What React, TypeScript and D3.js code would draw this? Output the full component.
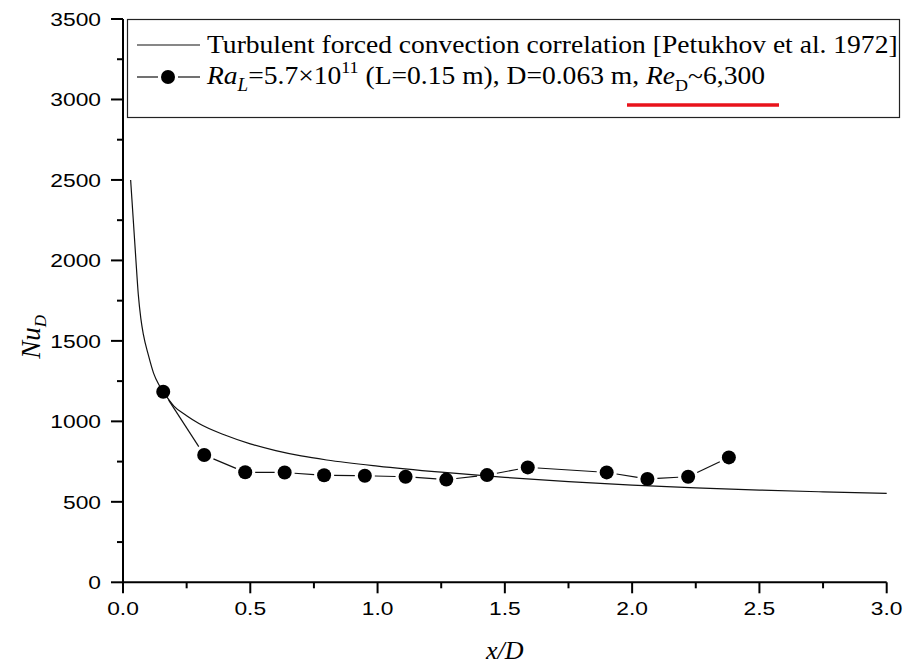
import React, { useEffect, useRef } from "react";
import * as d3 from "d3";

// Petukhov correlation curve
const corrX = [0.03, 0.04, 0.05, 0.06, 0.07, 0.08, 0.1, 0.12, 0.14, 0.16, 0.2, 0.25, 0.3, 0.4, 0.5, 0.6, 0.7, 0.8, 1.0, 1.25, 1.5, 1.75, 2.0, 2.25, 2.5, 2.75, 3.0];
const corrNu = [2500, 2260, 2020, 1790, 1640, 1540, 1410, 1300, 1230, 1180, 1095, 1035, 985, 915, 860, 818, 785, 760, 722, 684, 652, 626, 604, 587, 573, 562, 553];

// measured points
const measX = [0.158, 0.319, 0.48, 0.635, 0.79, 0.95, 1.11, 1.27, 1.43, 1.59, 1.9, 2.06, 2.22, 2.38];
const measNu = [1184, 791, 684, 682, 665, 662, 656, 638, 666, 714, 683, 642, 656, 776];

const xTicks = [0, 0.5, 1.0, 1.5, 2.0, 2.5, 3.0];
const yTicks = [0, 500, 1000, 1500, 2000, 2500, 3000, 3500];

const W = 906;
const H = 666;
const serif = "'Liberation Serif', 'Times New Roman', serif";
const sans = "'Liberation Sans', Arial, sans-serif";

export default function App() {
  const ref = useRef<SVGSVGElement>(null);

  useEffect(() => {
    document.body.style.margin = "0";
    const svg = d3.select(ref.current);
    svg.selectAll("*").remove();

    const x = d3.scaleLinear().domain([0, 3]).range([123, 886.7]);
    const y = d3.scaleLinear().domain([0, 3500]).range([582.3, 19]);

    // axes
    const xAxis = svg.append("g").attr("transform", `translate(0,${y(0)})`);
    xAxis.append("line").attr("x1", x(0)).attr("x2", x(3)).attr("stroke", "#000").attr("stroke-width", 2);
    xAxis.selectAll(".minor").data(d3.range(0.25, 3, 0.5)).enter().append("line")
      .attr("x1", d => x(d)).attr("x2", d => x(d)).attr("y1", 0).attr("y2", 6)
      .attr("stroke", "#000").attr("stroke-width", 2);
    xAxis.selectAll(".major").data(xTicks).enter().append("line")
      .attr("x1", d => x(d)).attr("x2", d => x(d)).attr("y1", 0).attr("y2", 11)
      .attr("stroke", "#000").attr("stroke-width", 2);
    xAxis.selectAll("text").data(xTicks).enter().append("text")
      .attr("transform", d => `translate(${x(d)},33) scale(1.2,1)`)
      .attr("text-anchor", "middle")
      .style("font-family", sans).style("font-size", "19px")
      .text(d => d.toFixed(1));

    const yAxis = svg.append("g").attr("transform", `translate(${x(0)},0)`);
    yAxis.append("line").attr("y1", y(0)).attr("y2", y(3500)).attr("stroke", "#000").attr("stroke-width", 2);
    yAxis.selectAll(".minor").data(d3.range(250, 3500, 500)).enter().append("line")
      .attr("y1", d => y(d)).attr("y2", d => y(d)).attr("x1", 0).attr("x2", -6)
      .attr("stroke", "#000").attr("stroke-width", 2);
    yAxis.selectAll(".major").data(yTicks).enter().append("line")
      .attr("y1", d => y(d)).attr("y2", d => y(d)).attr("x1", 0).attr("x2", -12)
      .attr("stroke", "#000").attr("stroke-width", 2);
    yAxis.selectAll("text").data(yTicks).enter().append("text")
      .attr("transform", d => `translate(-22,${y(d) + 7}) scale(1.2,1)`)
      .attr("text-anchor", "end")
      .style("font-family", sans).style("font-size", "19px")
      .text(d => String(d));

    // axis titles
    svg.append("text")
      .attr("x", (x(0) + x(3)) / 2).attr("y", 659)
      .attr("text-anchor", "middle")
      .style("font-family", serif).style("font-style", "italic").style("font-size", "26px")
      .text("x/D");

    const yt = svg.append("text")
      .attr("transform", `translate(40,${y(1500) - 4}) rotate(-90)`)
      .attr("text-anchor", "middle")
      .style("font-family", serif).style("font-size", "27px");
    yt.append("tspan").style("font-style", "italic").text("Nu");
    yt.append("tspan").attr("dy", 6).style("font-style", "italic").style("font-size", "17px").text("D");

    // correlation curve
    const corr = corrX.map((d, i) => [d, corrNu[i]] as [number, number]);
    const line = d3.line<[number, number]>().x(d => x(d[0])).y(d => y(d[1])).curve(d3.curveMonotoneX);
    svg.append("path").attr("d", line(corr)).attr("fill", "none").attr("stroke", "#111").attr("stroke-width", 1.2);

    // measured line with gaps around markers
    const r = 7;
    const gap = r + 3;
    const pts = measX.map((d, i) => [x(d), y(measNu[i])]);
    const segs = d3.pairs(pts).map(([a, b]) => {
      const dx = b[0] - a[0];
      const dy = b[1] - a[1];
      const len = Math.hypot(dx, dy);
      const ux = dx / len;
      const uy = dy / len;
      return [a[0] + ux * gap, a[1] + uy * gap, b[0] - ux * gap, b[1] - uy * gap];
    });
    svg.selectAll(".seg").data(segs).enter().append("line")
      .attr("x1", d => d[0]).attr("y1", d => d[1]).attr("x2", d => d[2]).attr("y2", d => d[3])
      .attr("stroke", "#111").attr("stroke-width", 1.2);
    svg.selectAll(".dot").data(pts).enter().append("circle")
      .attr("cx", d => d[0]).attr("cy", d => d[1]).attr("r", r).attr("fill", "#000");

    // legend
    const lg = svg.append("g");
    lg.append("rect").attr("x", 127.5).attr("y", 19.5).attr("width", 772).attr("height", 98)
      .attr("fill", "#fff").attr("stroke", "#222").attr("stroke-width", 1.2);
    lg.append("line").attr("x1", 137).attr("x2", 200).attr("y1", 45).attr("y2", 45).attr("stroke", "#111").attr("stroke-width", 1.2);
    lg.append("text").attr("transform", "translate(207,53) scale(1.06,1)")
      .style("font-family", serif).style("font-size", "26px")
      .text("Turbulent forced convection correlation [Petukhov et al. 1972]");

    lg.append("line").attr("x1", 137).attr("x2", 158).attr("y1", 77).attr("y2", 77).attr("stroke", "#111").attr("stroke-width", 1.2);
    lg.append("line").attr("x1", 178).attr("x2", 200).attr("y1", 77).attr("y2", 77).attr("stroke", "#111").attr("stroke-width", 1.2);
    lg.append("circle").attr("cx", 168).attr("cy", 77).attr("r", r).attr("fill", "#000");

    const t2 = lg.append("text").attr("transform", "translate(207,84) scale(1.06,1)")
      .style("font-family", serif).style("font-size", "26px");
    t2.append("tspan").style("font-style", "italic").text("Ra");
    t2.append("tspan").attr("dy", 7).style("font-style", "italic").style("font-size", "18px").text("L");
    t2.append("tspan").attr("dy", -7).text("=5.7×10");
    t2.append("tspan").attr("dy", -11).style("font-size", "17px").text("11");
    t2.append("tspan").attr("dy", 11).text(" (L=0.15 m), D=0.063 m, ");
    t2.append("tspan").style("font-style", "italic").text("Re");
    t2.append("tspan").attr("dy", 7).style("font-size", "17px").text("D");
    t2.append("tspan").attr("dy", -7).text("~6,300");

    lg.append("line").attr("x1", 627).attr("x2", 779).attr("y1", 105).attr("y2", 105)
      .attr("stroke", "#e8131b").attr("stroke-width", 3.5);
  }, []);

  return <svg ref={ref} width={W} height={H} style={{ display: "block", background: "#fff" }} />;
}
